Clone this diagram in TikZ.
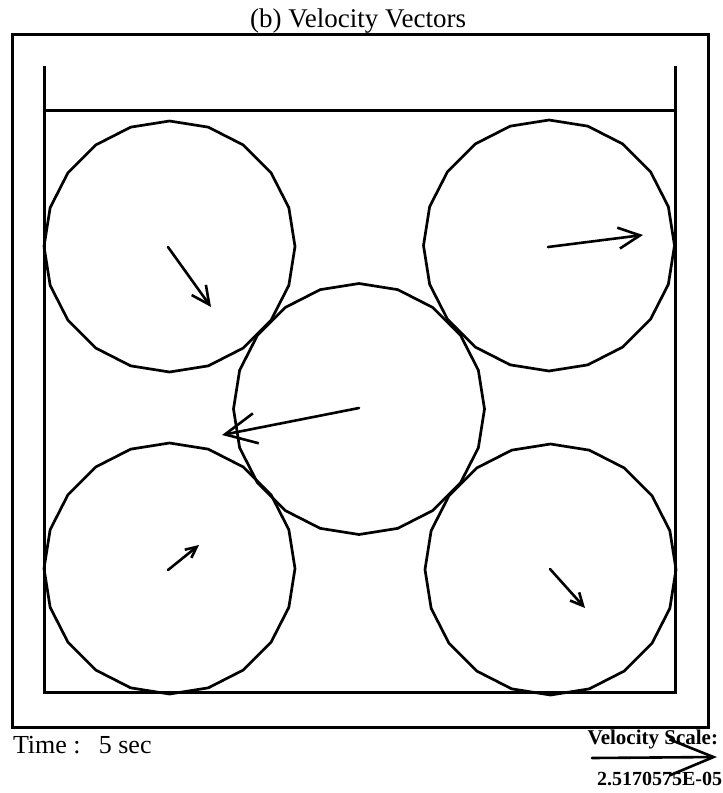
\documentclass[tikz,border=0pt]{standalone}
\usepackage{fontspec}
\setmainfont{Liberation Serif}
\usetikzlibrary{arrows.meta,calc}
\begin{document}
\begin{tikzpicture}[x=1pt,y=-1pt,
  framestyle/.style={line width=3pt},
  ballstyle/.style={line width=2.7pt,line join=round},
  vecstyle/.style={line width=2.6pt,line cap=round},
  lbl/.style={inner sep=0pt,outer sep=0pt}]
\useasboundingbox (0,0) rectangle (723,793);
% outer frame
\draw[framestyle] (12,34) rectangle (708,727);
% container
\coordinate (wlt) at (44,66);
\coordinate (wlb) at (44,692);
\coordinate (wrb) at (675,692);
\coordinate (wrt) at (675,66);
\coordinate (lidl) at (44,110);
\coordinate (lidr) at (675,110);
\draw[framestyle,line join=miter] (wlt) -- (wlb) -- (wrb) -- (wrt);
\draw[framestyle] (lidl) -- (lidr);
% balls (20-gons)
\def\rr{125.5}
\coordinate (b1) at (169.5,246.5);
\coordinate (b2) at (549,245.5);
\coordinate (b3) at (359,409);
\coordinate (b4) at (169.5,568.5);
\coordinate (b5) at (550.5,569.5);
\foreach \b in {b1,b2,b3,b4,b5}{
  \draw[ballstyle] ($(\b)+(0:\rr)$) \foreach \a in {18,36,...,342}{ -- ($(\b)+(\a:\rr)$)} -- cycle;
}
% velocity vectors
\coordinate (t1) at (168,247);   \coordinate (h1) at (211,307);
\coordinate (t2) at (548,247);   \coordinate (h2) at (643,235);
\coordinate (t3) at (359,408);   \coordinate (h3) at (222,435);
\coordinate (t4) at (168,570);   \coordinate (h4) at (199,545);
\coordinate (t5) at (550,569);   \coordinate (h5) at (585,608);
\draw[vecstyle,-{Straight Barb[length=18pt,width=17.5pt]}] (t1) -- (h1);
\draw[vecstyle,-{Straight Barb[length=21.6pt,width=21pt]}] (t2) -- (h2);
\draw[vecstyle,-{Straight Barb[length=31.5pt,width=30.5pt]}] (t3) -- (h3);
\draw[vecstyle,-{Straight Barb[length=11pt,width=10.5pt]}] (t4) -- (h4);
\draw[vecstyle,-{Straight Barb[length=12.6pt,width=12.3pt]}] (t5) -- (h5);
% texts
\node[lbl,anchor=base] (title) at (358,27) {\fontsize{27}{30}\selectfont (b) Velocity Vectors};
\node[lbl,anchor=base west] (time) at (13,753) {\fontsize{26}{30}\selectfont Time :\hspace{0.7em}5 sec};
\node[lbl,anchor=base east] (scalelbl) at (718,744) {\fontsize{21}{24}\selectfont\bfseries Velocity Scale:};
\node[lbl,anchor=base east] (scaleval) at (722,785) {\fontsize{20}{22}\selectfont\bfseries 2.5170575E-05};
% scale arrow
\coordinate (st) at (592,758);
\coordinate (sh) at (717,757);
\draw[vecstyle,-{Straight Barb[length=44pt,width=36pt]}] (st) -- (sh);
\end{tikzpicture}
\end{document}
